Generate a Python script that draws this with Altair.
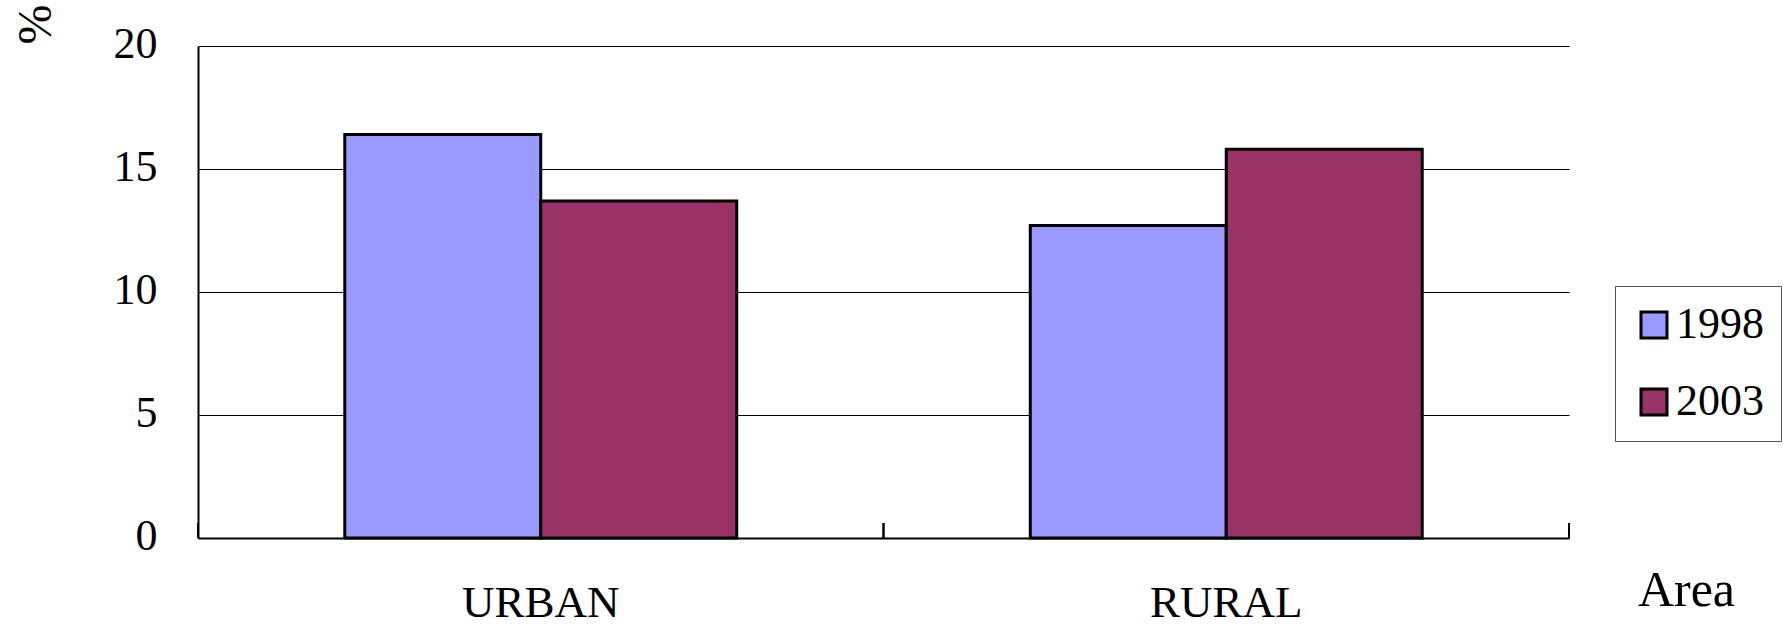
import altair as alt
import pandas as pd

# Share of population by area, two survey years
areas = ["URBAN", "RURAL"]
years = ["1998", "2003"]
values_1998 = [16.4, 12.7]
values_2003 = [13.7, 15.8]
y_ticks = [0, 5, 10, 15, 20]
colors = ["#9999FF", "#993366"]

rows = []
for area, v98, v03 in zip(areas, values_1998, values_2003):
    rows.append({"area": area, "year": years[0], "value": v98})
    rows.append({"area": area, "year": years[1], "value": v03})
df = pd.DataFrame(rows)
boundaries = pd.DataFrame({"area": areas})

FONT = "Liberation Serif"
W, H = 1371, 492

x_scale = alt.Scale(domain=areas, paddingInner=0, paddingOuter=0)

bars = alt.Chart(df).mark_bar(stroke="black", strokeWidth=3).encode(
    x=alt.X(
        "area:N",
        scale=x_scale,
        sort=areas,
        axis=alt.Axis(
            title="Area",
            labelAngle=0,
            labelFont=FONT,
            labelFontSize=45,
            labelColor="black",
            labelBaseline="alphabetic",
            labelPadding=78,
            ticks=False,
            tickSize=0,
            domainColor="black",
            domainWidth=2,
            titleFont=FONT,
            titleFontSize=50,
            titleFontWeight="normal",
            titleColor="black",
            titleAlign="center",
            titleBaseline="alphabetic",
            titleX=1488,
            titleY=67,
        ),
    ),
    xOffset=alt.XOffset(
        "year:N",
        scale=alt.Scale(domain=years, paddingInner=0, paddingOuter=0.749),
    ),
    y=alt.Y(
        "value:Q",
        scale=alt.Scale(domain=[0, 20], nice=False, zero=True),
        axis=alt.Axis(
            title="%",
            values=y_ticks,
            labelFont=FONT,
            labelFontSize=44,
            labelColor="black",
            labelBaseline="alphabetic",
            labelOffset=11.5,
            labelPadding=41,
            ticks=False,
            tickSize=0,
            grid=True,
            gridColor="black",
            gridWidth=1.2,
            domainColor="black",
            domainWidth=2,
            titleFont=FONT,
            titleFontSize=48,
            titleFontWeight="normal",
            titleColor="black",
            titleAngle=270,
            titleAlign="center",
            titleBaseline="middle",
            titleX=-162,
            titleY=-22,
        ),
    ),
    color=alt.Color(
        "year:N",
        scale=alt.Scale(domain=years, range=colors),
        legend=alt.Legend(
            title=None,
            orient="none",
            legendX=1417,
            legendY=240,
            padding=17,
            strokeColor="#555555",
            fillColor="white",
            symbolType="square",
            symbolSize=676,
            symbolStrokeColor="black",
            symbolStrokeWidth=3,
            symbolOpacity=1,
            labelFont=FONT,
            labelFontSize=44,
            labelColor="black",
            labelOffset=0,
            rowPadding=33,
        ),
    ),
)

# Short inward ticks on the category boundaries of the x axis
tick_start = alt.Chart(boundaries).mark_rule(color="black", strokeWidth=2).encode(
    x=alt.X("area:N", scale=x_scale, sort=areas, bandPosition=0),
    y=alt.value(H - 15),
    y2=alt.value(H),
)
tick_end = alt.Chart(boundaries).mark_rule(color="black", strokeWidth=2).encode(
    x=alt.X("area:N", scale=x_scale, sort=areas, bandPosition=1),
    y=alt.value(H - 15),
    y2=alt.value(H),
)

chart = (
    alt.layer(bars, tick_start, tick_end)
    .properties(
        width=W,
        height=H,
        padding={"left": 198, "top": 46, "right": 214, "bottom": 87},
        autosize=alt.AutoSizeParams(type="none"),
        background="white",
    )
    .configure_view(stroke=None)
)

chart.save("out.html", embed_options={"renderer": "svg", "actions": False})
